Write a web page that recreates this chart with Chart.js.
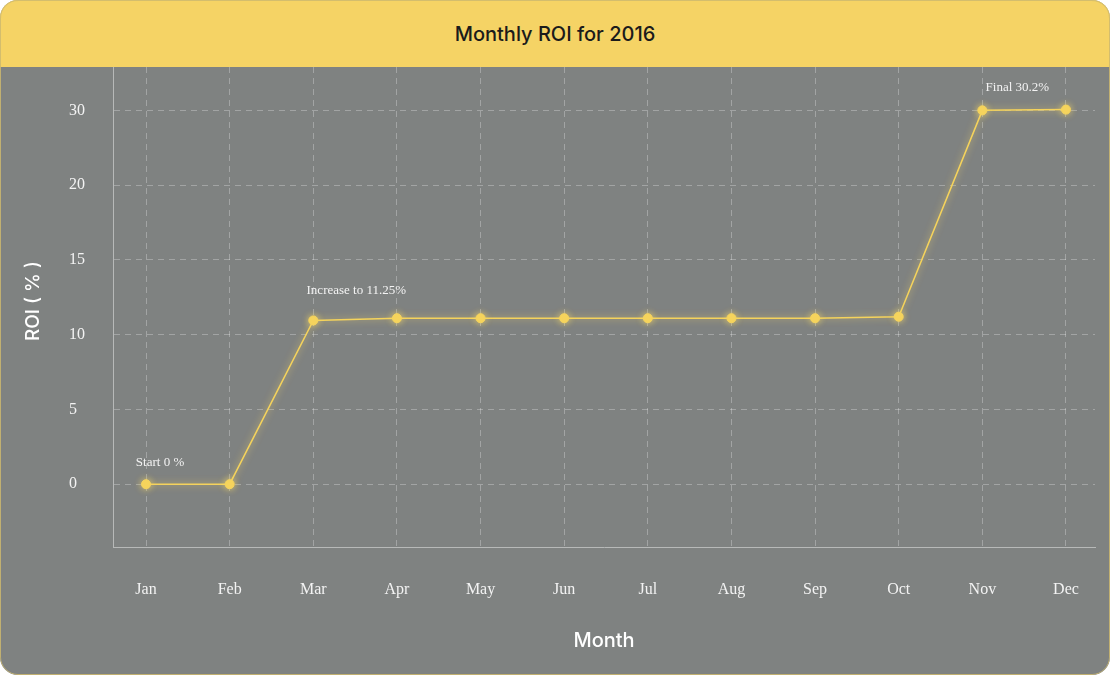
<!DOCTYPE html>
<html>
<head>
<meta charset="utf-8">
<script src="https://cdn.jsdelivr.net/npm/chart.js@4.4.1/dist/chart.umd.min.js"></script>
<style>
  html, body { margin: 0; padding: 0; background: #ffffff; }
  .card {
    position: relative; width: 1110px; height: 675px;
    border-radius: 18px; overflow: hidden; background: #7f8281;
  }
  .header {
    height: 67px; background: #f5d365;
    display: flex; align-items: center; justify-content: center;
    font-family: Inter, "Noto Sans", sans-serif; font-size: 20px; font-weight: 500; color: #1b1b1b;
  }
  .plot { position: absolute; left: 0; top: 67px; width: 1110px; height: 608px; }
  .ytitle {
    position: absolute; left: -67px; top: 288px; width: 200px; text-align: center;
    font-family: Inter, "Noto Sans", sans-serif; font-size: 19px; font-weight: 500; color: #ffffff;
    transform: rotate(-90deg); line-height: 26px;
  }
  .frame {
    position: absolute; inset: 0; border: 1px solid rgba(205,185,110,0.85);
    border-radius: 18px; pointer-events: none;
  }
</style>
</head>
<body>
<div class="card">
  <div class="header">Monthly ROI for 2016</div>
  <div class="plot"><canvas id="roiChart" width="1110" height="608"></canvas></div>
  <div class="ytitle">ROI ( % )</div>
  <div class="frame"></div>
</div>
<script>
// ---------- data ----------
const MONTHS = ['Jan', 'Feb', 'Mar', 'Apr', 'May', 'Jun', 'Jul', 'Aug', 'Sep', 'Oct', 'Nov', 'Dec'];
const ROI = [0, 0, 10.95, 11.1, 11.1, 11.1, 11.1, 11.1, 11.1, 11.2, 30.0, 30.1];
const Y_TICKS = [0, 5, 10, 15, 20, 30];
const Y_BREAK = 20;       // above this the axis is compressed by half
const NOTE_INDEX = [0, 2, 10];
const NOTE_TEXT = ['Start 0 %', 'Increase to 11.25%', 'Final 30.2%'];

// ---------- styles ----------
const NOTE_OFFSET = [[14, -22], [43, -30], [35, -23]];
const TEXT = '#f3f3f3';
const GRID = 'rgba(255,255,255,0.28)';
const AXIS = '#b7b9b8';
const YELLOW = '#f5d35c';
const SERIF = '"Liberation Serif", "DejaVu Serif", serif';

// y axis with a compressed section above Y_BREAK (20 -> 30 uses one step)
class BrokenScale extends Chart.LinearScale {
  static id = 'broken';
  static defaults = Chart.LinearScale.defaults;
  warp(v) { return v > Y_BREAK ? Y_BREAK + (v - Y_BREAK) / 2 : v; }
  unwarp(v) { return v > Y_BREAK ? Y_BREAK + (v - Y_BREAK) * 2 : v; }
  buildTicks() { return Y_TICKS.map(v => ({ value: v })); }
  getPixelForValue(value) { return super.getPixelForValue(this.warp(value)); }
  getValueForPixel(pixel) { return this.unwarp(super.getValueForPixel(pixel)); }
}
Chart.register(BrokenScale);

// no extra room for half tick labels at the plot edges
function noEdgePadding(s) {
  s.paddingTop = 0; s.paddingBottom = 0; s.paddingLeft = 0; s.paddingRight = 0;
}

const glowPlugin = {
  id: 'glow',
  beforeDatasetDraw(chart) {
    const ctx = chart.ctx;
    ctx.save();
    ctx.shadowColor = 'rgba(255,222,100,0.75)';
    ctx.shadowBlur = 7;
  },
  afterDatasetDraw(chart) { chart.ctx.restore(); }
};

const notesPlugin = {
  id: 'notes',
  afterDatasetsDraw(chart) {
    const ctx = chart.ctx;
    const pts = chart.getDatasetMeta(0).data;
    ctx.save();
    ctx.font = '13px ' + SERIF;
    ctx.fillStyle = TEXT;
    ctx.textAlign = 'center';
    ctx.textBaseline = 'middle';
    NOTE_INDEX.forEach((idx, k) => {
      const p = pts[idx];
      ctx.fillText(NOTE_TEXT[k], p.x + NOTE_OFFSET[k][0], p.y + NOTE_OFFSET[k][1]);
    });
    ctx.restore();
  }
};

new Chart(document.getElementById('roiChart').getContext('2d'), {
  type: 'line',
  data: {
    datasets: [{
      data: MONTHS.map((m, i) => ({ x: i, y: ROI[i] })),
      borderColor: YELLOW,
      borderWidth: 1.5,
      pointRadius: 4.5,
      pointBorderWidth: 1,
      pointBackgroundColor: YELLOW,
      pointBorderColor: YELLOW,
      tension: 0,
      fill: false
    }]
  },
  options: {
    responsive: false,
    devicePixelRatio: 1,
    animation: false,
    events: [],
    layout: { autoPadding: false, padding: { left: 69, right: 15, top: 0, bottom: 0 } },
    plugins: { legend: { display: false }, tooltip: { enabled: false } },
    scales: {
      x: {
        type: 'linear',
        min: -0.395,
        max: 11.347,
        afterBuildTicks: s => { s.ticks = MONTHS.map((m, i) => ({ value: i })); },
        afterFit: s => { s.height = 128; noEdgePadding(s); },
        ticks: {
          callback: v => MONTHS[v],
          color: TEXT, padding: 33, autoSkip: false, maxRotation: 0,
          font: { family: SERIF, size: 16 }
        },
        grid: { color: GRID, lineWidth: 1, drawTicks: false },
        border: { display: true, color: AXIS, width: 1, dash: [6, 5] },
        title: {
          display: true, text: 'Month', color: '#ffffff',
          font: { family: 'Inter, "Noto Sans", sans-serif', size: 20, weight: 500 },
          padding: { top: 0, bottom: 22 }
        }
      },
      y: {
        type: 'broken',
        min: -4.2,
        max: 27.9,
        afterFit: s => { s.width = 44; noEdgePadding(s); },
        ticks: {
          color: TEXT, crossAlign: 'far', autoSkip: false,
          font: { family: SERIF, size: 16 }
        },
        grid: { color: GRID, lineWidth: 1, drawTicks: false },
        border: { display: true, color: AXIS, width: 1, dash: [6, 5] }
      }
    }
  },
  plugins: [glowPlugin, notesPlugin]
});
</script>
</body>
</html>
